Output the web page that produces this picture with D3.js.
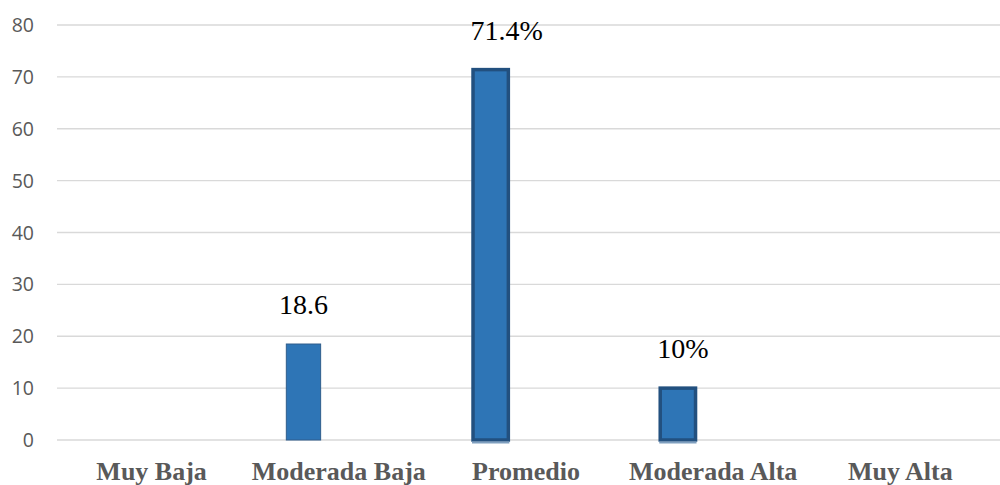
<!DOCTYPE html>
<html lang="es">
<head>
<meta charset="utf-8" />
<style>
  body { margin: 0; background: #fff; }
  .grid line { stroke: #d9d9d9; stroke-width: 1.3px; }
</style>
</head>
<body>
<script src="https://cdn.jsdelivr.net/npm/d3@7"></script>
<script>
  const categories = ["Muy Baja", "Moderada Baja", "Promedio", "Moderada Alta", "Muy Alta"];
  const values = [0, 18.6, 71.4, 10, 0];
  const labels = ["", "18.6", "71.4%", "10%", ""];
  const series = ["Serie1", "Serie2", "Serie3"];
  const yTicks = [0, 10, 20, 30, 40, 50, 60, 70, 80];

  const width = 1000, height = 485;
  const margin = {top: 25, right: 6, bottom: 45, left: 58};
  const serif = "'Times New Roman', 'Liberation Serif', serif";

  const svg = d3.select("body").append("svg")
    .attr("width", width)
    .attr("height", height);

  const x = d3.scaleBand()
    .domain(categories)
    .range([margin.left, width - margin.right]);

  const x1 = d3.scaleBand()
    .domain(series)
    .range([0, x.bandwidth()])
    .paddingOuter(1.15);

  const y = d3.scaleLinear()
    .domain([0, 80])
    .range([height - margin.bottom, margin.top]);

  // gridlines
  svg.append("g").attr("class", "grid")
    .selectAll("line")
    .data(yTicks)
    .join("line")
    .attr("x1", 57)
    .attr("x2", width)
    .attr("y1", d => y(d))
    .attr("y2", d => y(d));

  svg.append("g")
    .selectAll("text")
    .data(yTicks)
    .join("text")
    .attr("x", 34)
    .attr("y", d => y(d))
    .attr("dy", "0.36em")
    .attr("text-anchor", "end")
    .attr("font-family", "'Open Sans', sans-serif")
    .attr("font-size", 19.5)
    .attr("fill", "#595959")
    .text(d => d);

  // bars (only first series has data)
  const bars = categories.map((c, i) => ({cat: c, v: values[i], label: labels[i], i}))
    .filter(d => d.v > 0);

  const barX = d => x(d.cat) + x1(series[0]);
  const thin = d => d.i === 1;

  svg.append("g")
    .selectAll("rect")
    .data(bars)
    .join("rect")
    .attr("x", d => barX(d) + (thin(d) ? 0.5 : 0))
    .attr("y", d => y(d.v) + (thin(d) ? 0.5 : 0))
    .attr("width", d => x1.bandwidth() - (thin(d) ? 1 : 0))
    .attr("height", d => y(0) - y(d.v) - (thin(d) ? 0.5 : 0))
    .attr("fill", "#2e75b6")
    .attr("stroke", d => thin(d) ? "#2f5d8c" : "#22507f")
    .attr("stroke-width", d => thin(d) ? 1 : 3.5);

  // light line under thick-bordered bars
  svg.append("g")
    .selectAll("line")
    .data(bars.filter(d => !thin(d)))
    .join("line")
    .attr("x1", d => barX(d) - 1)
    .attr("x2", d => barX(d) + x1.bandwidth() + 1)
    .attr("y1", y(0) + 2.5)
    .attr("y2", y(0) + 2.5)
    .attr("stroke", "#7f9fbf")
    .attr("stroke-width", 2);

  svg.append("g")
    .selectAll("text")
    .data(bars)
    .join("text")
    .attr("x", d => barX(d) + x1.bandwidth() / 2 + (d.i === 2 ? 16 : d.i === 3 ? 5 : 0))
    .attr("y", d => y(d.v) - 30)
    .attr("text-anchor", "middle")
    .attr("font-family", serif)
    .attr("font-size", 28)
    .attr("fill", "#000")
    .text(d => d.label);

  svg.append("g")
    .selectAll("text")
    .data(categories)
    .join("text")
    .attr("x", d => x(d) + x.bandwidth() / 2)
    .attr("y", 480)
    .attr("text-anchor", "middle")
    .attr("font-family", serif)
    .attr("font-weight", "bold")
    .attr("font-size", 26)
    .attr("fill", "#595959")
    .text(d => d);
</script>
</body>
</html>
